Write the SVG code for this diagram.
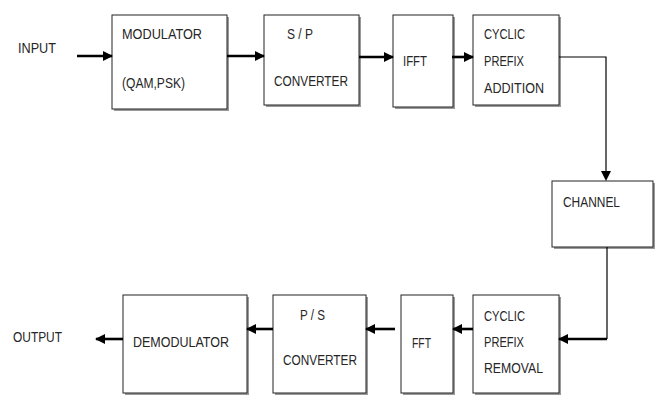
<svg xmlns="http://www.w3.org/2000/svg" width="656" height="395" viewBox="0 0 656 395">
<defs>
<marker id="ah" markerUnits="userSpaceOnUse" markerWidth="10" markerHeight="12" refX="9" refY="5" orient="auto">
<path d="M0,0 L10,5 L0,10 Z" fill="#000"/>
</marker>
</defs>
<style>
.box{fill:#fff;stroke:#222;stroke-width:1}
.sh{fill:#9a9a9a}
text{font-family:"Liberation Sans",Arial,sans-serif;font-size:15px;fill:#262626}
.thick{stroke:#000;stroke-width:2.6;fill:none}
.thin{stroke:#000;stroke-width:1.2;fill:none}
</style>
<rect width="656" height="395" fill="#fff"/>
<text x="18" y="53" textLength="38" lengthAdjust="spacingAndGlyphs">INPUT</text>
<text x="13" y="342" textLength="49" lengthAdjust="spacingAndGlyphs">OUTPUT</text>
<g id="modulator">
<rect class="sh" x="114" y="17" width="115" height="94"/>
<rect class="box" x="112" y="15" width="115" height="94"/>
<text x="122" y="39" textLength="80" lengthAdjust="spacingAndGlyphs">MODULATOR</text>
<text x="122" y="88" textLength="63" lengthAdjust="spacingAndGlyphs">(QAM,PSK)</text>
</g>
<g id="sp">
<rect class="sh" x="266" y="17" width="95" height="90"/>
<rect class="box" x="264" y="15" width="95" height="90"/>
<text x="287" y="39" textLength="26" lengthAdjust="spacingAndGlyphs">S / P</text>
<text x="274" y="86" textLength="74" lengthAdjust="spacingAndGlyphs">CONVERTER</text>
</g>
<g id="ifft">
<rect class="sh" x="395" y="17" width="60" height="92"/>
<rect class="box" x="393" y="15" width="60" height="92"/>
<text x="403" y="66" textLength="24" lengthAdjust="spacingAndGlyphs">IFFT</text>
</g>
<g id="cpa">
<rect class="sh" x="475" y="17" width="86" height="90"/>
<rect class="box" x="473" y="15" width="86" height="90"/>
<text x="484" y="39" textLength="41" lengthAdjust="spacingAndGlyphs">CYCLIC</text>
<text x="484" y="66" textLength="40" lengthAdjust="spacingAndGlyphs">PREFIX</text>
<text x="484" y="93" textLength="60" lengthAdjust="spacingAndGlyphs">ADDITION</text>
</g>
<g id="channel">
<rect class="sh" x="554" y="183" width="101" height="66"/>
<rect class="box" x="552" y="181" width="101" height="66"/>
<text x="563" y="207" textLength="57" lengthAdjust="spacingAndGlyphs">CHANNEL</text>
</g>
<g id="cpr">
<rect class="sh" x="475" y="297" width="86" height="98"/>
<rect class="box" x="473" y="295" width="86" height="98"/>
<text x="484" y="321" textLength="41" lengthAdjust="spacingAndGlyphs">CYCLIC</text>
<text x="484" y="347" textLength="40" lengthAdjust="spacingAndGlyphs">PREFIX</text>
<text x="484" y="373" textLength="59" lengthAdjust="spacingAndGlyphs">REMOVAL</text>
</g>
<g id="fft">
<rect class="sh" x="403" y="297" width="52" height="98"/>
<rect class="box" x="401" y="295" width="52" height="98"/>
<text x="412" y="348" textLength="19" lengthAdjust="spacingAndGlyphs">FFT</text>
</g>
<g id="ps">
<rect class="sh" x="275" y="297" width="93" height="98"/>
<rect class="box" x="273" y="295" width="93" height="98"/>
<text x="300" y="320" textLength="25" lengthAdjust="spacingAndGlyphs">P / S</text>
<text x="283" y="365" textLength="74" lengthAdjust="spacingAndGlyphs">CONVERTER</text>
</g>
<g id="demodulator">
<rect class="sh" x="125" y="297" width="124" height="98"/>
<rect class="box" x="123" y="295" width="124" height="98"/>
<text x="133" y="347" textLength="96" lengthAdjust="spacingAndGlyphs">DEMODULATOR</text>
</g>
<g id="connectors">
<line class="thick" x1="77" y1="56" x2="112" y2="56" marker-end="url(#ah)"/>
<line class="thick" x1="227" y1="56" x2="264" y2="56" marker-end="url(#ah)"/>
<line class="thick" x1="359" y1="57" x2="393" y2="57" marker-end="url(#ah)"/>
<line class="thick" x1="452" y1="57" x2="473" y2="57" marker-end="url(#ah)"/>
<polyline class="thin" points="559,57 606,57 606,172"/>
<path d="M601,171 L611,171 L606,181 Z" fill="#000"/>
<polyline class="thin" points="607,247 607,339"/>
<line class="thick" x1="607" y1="339" x2="559" y2="339" marker-end="url(#ah)"/>
<line class="thick" x1="473" y1="329" x2="453" y2="329" marker-end="url(#ah)"/>
<line class="thick" x1="395" y1="329" x2="366" y2="329" marker-end="url(#ah)"/>
<line class="thick" x1="273" y1="329" x2="247" y2="329" marker-end="url(#ah)"/>
<line class="thick" x1="123" y1="339" x2="96" y2="339" marker-end="url(#ah)"/>
</g>
</svg>
